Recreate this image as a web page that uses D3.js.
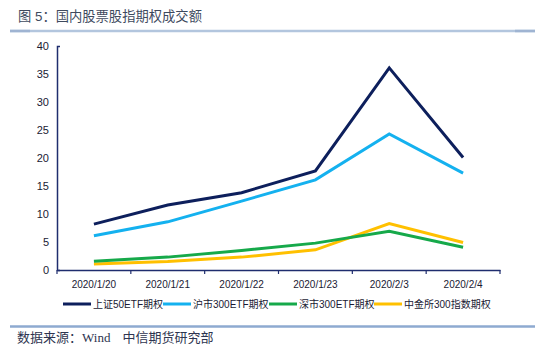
<!DOCTYPE html>
<html>
<head>
<meta charset="utf-8">
<script src="https://cdn.jsdelivr.net/npm/d3@7"></script>
<style>
  body { margin: 0; background: #fff; }
  text { font-family: "Liberation Sans", Arial, "Noto Sans CJK SC", sans-serif; }
</style>
</head>
<body>
<div id="container"></div>
<script>
const categories = ["2020/1/20", "2020/1/21", "2020/1/22", "2020/1/23", "2020/2/3", "2020/2/4"];
const sz50etf = [8.2, 11.6, 13.8, 17.7, 36.1, 20.1];
const hs300etf = [6.1, 8.6, 12.3, 16.1, 24.3, 17.3];
const sz300etf = [1.55, 2.3, 3.5, 4.8, 6.9, 4.05];
const cffex300 = [1.07, 1.5, 2.3, 3.6, 8.3, 4.9];
const seriesNames = ["上证50ETF期权", "沪市300ETF期权", "深市300ETF期权", "中金所300指数期权"];
const yTicks = [0, 5, 10, 15, 20, 25, 30, 35, 40];

const series = [
  {name: seriesNames[0], values: sz50etf, color: "#0d1f5c"},
  {name: seriesNames[1], values: hs300etf, color: "#14b1ef"},
  {name: seriesNames[2], values: sz300etf, color: "#16a94a"},
  {name: seriesNames[3], values: cffex300, color: "#ffc000"}
];

const width = 550, height = 350;
const svg = d3.select("#container").append("svg")
  .attr("width", width).attr("height", height);

// title + rules
svg.append("text")
  .attr("x", 18).attr("y", 21)
  .attr("font-size", 13.3).attr("fill", "#3e4a5e")
  .text("图 5：国内股票股指期权成交额");
svg.append("line").attr("x1", 10).attr("x2", 535).attr("y1", 31).attr("y2", 31)
  .attr("stroke", "#b3c6de").attr("stroke-width", 2.5);
svg.append("line").attr("x1", 10).attr("x2", 30).attr("y1", 31).attr("y2", 31)
  .attr("stroke", "#9fb4d2").attr("stroke-width", 2.5);
svg.append("line").attr("x1", 515).attr("x2", 535).attr("y1", 31).attr("y2", 31)
  .attr("stroke", "#9fb4d2").attr("stroke-width", 2.5);
svg.append("line").attr("x1", 10).attr("x2", 535).attr("y1", 326.5).attr("y2", 326.5)
  .attr("stroke", "#8eaad0").attr("stroke-width", 2.5);

const source = svg.append("text")
  .attr("x", 17).attr("y", 342)
  .attr("font-size", 13).attr("fill", "#2e3550");
source.append("tspan").text("数据来源：");
source.append("tspan").attr("font-family", "'Liberation Serif', serif").text("Wind");
source.append("tspan").attr("dx", 12).text("中信期货研究部");

// scales
const x = d3.scaleBand().domain(categories).range([57, 500]).padding(0);
const y = d3.scaleLinear().domain([0, 40]).range([270, 46]);
const axisColor = "#1f2d6e";

// y axis
const yAxis = svg.append("g")
  .attr("transform", "translate(57,0)")
  .call(d3.axisLeft(y).tickValues(yTicks).tickSize(0).tickSizeOuter(-3).tickPadding(8));
yAxis.select(".domain").attr("stroke", axisColor).attr("stroke-width", 1.5);
yAxis.selectAll("text").attr("font-size", 11).attr("fill", "#1a1a33")
  .attr("font-family", "'Liberation Sans', Arial, sans-serif");

// x axis
const xAxis = svg.append("g")
  .attr("transform", "translate(0,270)")
  .call(d3.axisBottom(x).tickSize(0).tickSizeOuter(0).tickPadding(11));
xAxis.select(".domain").attr("stroke", axisColor).attr("stroke-width", 1.5);
xAxis.selectAll("text").attr("font-size", 10).attr("fill", "#1a1a33")
  .attr("font-family", "'Liberation Sans', Arial, sans-serif");

const bounds = categories.map(c => x(c)).concat([x.range()[1]]);
svg.append("g").selectAll("line")
  .data(bounds)
  .enter().append("line")
  .attr("x1", d => d).attr("x2", d => d)
  .attr("y1", 270).attr("y2", 274)
  .attr("stroke", axisColor).attr("stroke-width", 1.2);

// lines
const line = d3.line()
  .x((d, i) => x(categories[i]) + x.bandwidth() / 2)
  .y(d => y(d));

svg.append("g").selectAll("path")
  .data(series.slice().reverse())
  .enter().append("path")
  .attr("d", d => line(d.values))
  .attr("fill", "none")
  .attr("stroke", d => d.color)
  .attr("stroke-width", 3)
  .attr("stroke-linejoin", "miter");

// legend
const legendX = [63, 163, 269, 374];
const legend = svg.append("g").selectAll("g")
  .data(series)
  .enter().append("g")
  .attr("transform", (d, i) => `translate(${legendX[i]},304)`);
legend.append("line")
  .attr("x1", 0).attr("x2", 28)
  .attr("stroke", d => d.color).attr("stroke-width", 3);
legend.append("text")
  .attr("x", 30).attr("y", 4)
  .attr("font-size", 10).attr("fill", "#1a1a33")
  .text(d => d.name);
</script>
</body>
</html>
